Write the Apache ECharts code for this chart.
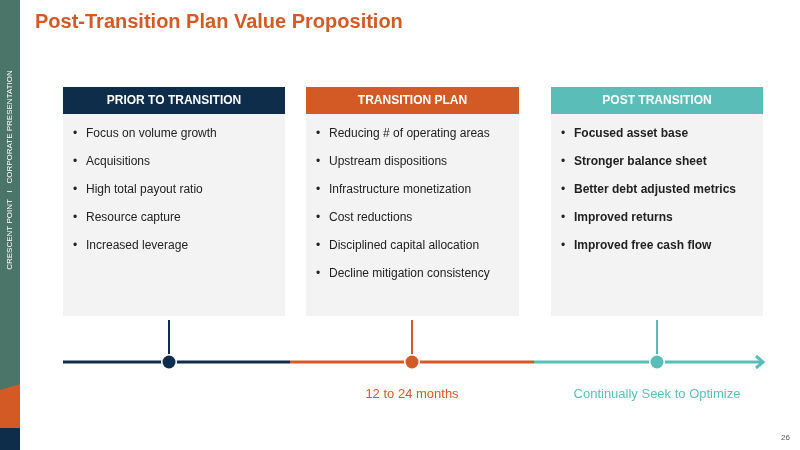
<!DOCTYPE html><html><head><meta charset="utf-8">
<script src="https://cdn.jsdelivr.net/npm/echarts@6/dist/echarts.min.js"></script>
<style>html,body{margin:0;padding:0;background:#fff}#c{width:800px;height:450px}</style></head><body><div id="c"></div>
<script>
const title = "Post-Transition Plan Value Proposition";
const headers = ["PRIOR TO TRANSITION", "TRANSITION PLAN", "POST TRANSITION"];
const prior = ["Focus on volume growth","Acquisitions","High total payout ratio","Resource capture","Increased leverage"];
const plan = ["Reducing # of operating areas","Upstream dispositions","Infrastructure monetization","Cost reductions","Disciplined capital allocation","Decline mitigation consistency"];
const post = ["Focused asset base","Stronger balance sheet","Better debt adjusted metrics","Improved returns","Improved free cash flow"];
const timelineLabels = ["", "12 to 24 months", "Continually Seek to Optimize"];
const sideText = "CRESCENT POINT   I   CORPORATE PRESENTATION";
const pageNo = "26";

const colors = ["#0E2D4A", "#D35A25", "#5BBDB7"];
const boxes = [[63,285],[306,519],[551,763]];
const lists = [prior, plan, post];
const F = "Liberation Sans, Arial, sans-serif";
const g = [];
// sidebar
g.push({type:'rect',shape:{x:0,y:0,width:20,height:450},style:{fill:'#4B7569'}});
g.push({type:'polygon',shape:{points:[[0,390],[20,384],[20,428],[0,428]]},style:{fill:'#D35A25'}});
g.push({type:'rect',shape:{x:0,y:428,width:20,height:22},style:{fill:'#0E2D4A'}});
g.push({type:'text',x:10,y:170,rotation:Math.PI/2,style:{text:sideText,fill:'#fff',font:'8px '+F,align:'center',verticalAlign:'middle'}});
g.push({type:'text',x:35,y:22,style:{text:title,fill:'#D35A25',font:'bold 20px '+F,verticalAlign:'middle'}});
g.push({type:'text',x:790,y:438,style:{text:pageNo,fill:'#555',font:'8px '+F,align:'right',verticalAlign:'middle'}});
boxes.forEach((b,i)=>{
  const w=b[1]-b[0];
  g.push({type:'rect',shape:{x:b[0],y:114,width:w,height:202},style:{fill:'#F3F3F3'}});
  g.push({type:'rect',shape:{x:b[0],y:87,width:w,height:27},style:{fill:colors[i]}});
  g.push({type:'text',x:b[0]+w/2,y:101,style:{text:headers[i],fill:'#fff',font:'bold 12px '+F,align:'center',verticalAlign:'middle'}});
  lists[i].forEach((t,j)=>{
    const y=134+j*28;
    g.push({type:'text',x:b[0]+10,y:y,style:{text:'•',fill:'#222',font:'12px '+F,verticalAlign:'middle'}});
    g.push({type:'text',x:b[0]+23,y:y,style:{text:t,fill:'#222',font:(i===2?'bold ':'')+'12px '+F,verticalAlign:'middle'}});
  });
});
// timeline
const segs=[[63,290],[290,534],[534,762]];
const centers=[169,412,657];
segs.forEach((s,i)=>{
  g.push({type:'line',shape:{x1:s[0],y1:362,x2:s[1],y2:362},style:{stroke:colors[i],lineWidth:3}});
  g.push({type:'line',shape:{x1:centers[i],y1:320,x2:centers[i],y2:362},style:{stroke:colors[i],lineWidth:2}});
  g.push({type:'circle',shape:{cx:centers[i],cy:362,r:8},style:{fill:'#fff'}});
  g.push({type:'circle',shape:{cx:centers[i],cy:362,r:6.5},style:{fill:colors[i]}});
  if(timelineLabels[i]) g.push({type:'text',x:centers[i],y:394,style:{text:timelineLabels[i],fill:colors[i],font:'13px '+F,align:'center',verticalAlign:'middle'}});
});
g.push({type:'polyline',shape:{points:[[756,356],[763,362],[756,368]]},style:{stroke:colors[2],lineWidth:3,fill:null}});
const chart=echarts.init(document.getElementById('c'));
chart.setOption({animation:false,graphic:g});
</script></body></html>
